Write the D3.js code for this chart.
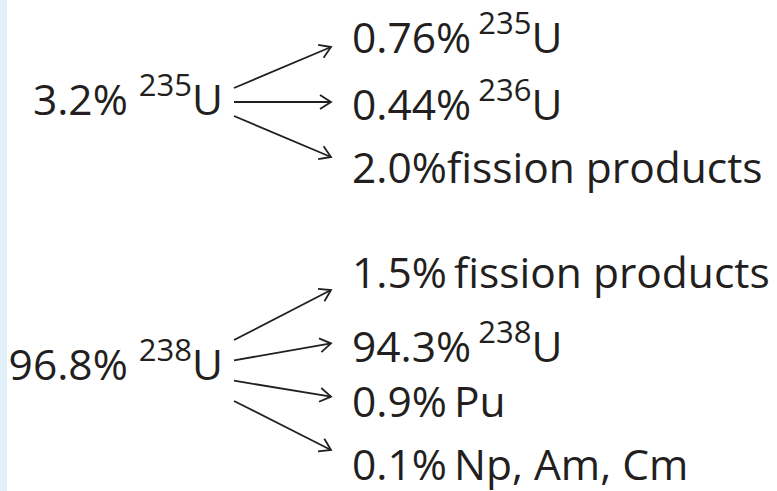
<!DOCTYPE html>
<html>
<head>
<meta charset="utf-8">
<script src="https://cdn.jsdelivr.net/npm/d3@7"></script>
<style>
  body { margin: 0; background: #fff; }
  svg { display: block; }
  text { font-family: "Open Sans", "Noto Sans", sans-serif; fill: #231f20; }
</style>
</head>
<body>
<div id="container"></div>
<script>
/* DATA */
const sourceShare = ["3.2%", "96.8%"];
const sourceMass = ["235", "238"];

const u235Share = ["0.76%", "0.44%", "2.0%"];
const u235Mass = ["235", "236", null];
const u235Name = ["U", "U", "fission products"];
const u235Gap = [" ", " ", ""];

const u238Share = ["1.5%", "94.3%", "0.9%", "0.1%"];
const u238Mass = [null, "238", null, null];
const u238Name = ["fission products", "U", "Pu", "Np, Am, Cm"];
const u238Gap = [" ", " ", " ", " "];

/* CONSTANTS AND GLOBALS */
const width = 777, height = 491;
const ink = "#231f20";
const mainSize = 42.5, supSize = 31, supRise = 19;

// layout for the two groups
const groups = [
  { src: 0, share: u235Share, mass: u235Mass, name: u235Name, gap: u235Gap,
    srcBase: 115, startY: [88, 116], endY: [47, 157], labelY: [53, 120, 183] },
  { src: 1, share: u238Share, mass: u238Mass, name: u238Name, gap: u238Gap,
    srcBase: 380, startY: [340, 401], endY: [290, 450], labelY: [288, 362, 417, 480] }
];
const srcRight = 223, arrowX0 = 234, arrowX1 = 331, labelX = 352;

const svg = d3.select("#container")
  .append("svg")
  .attr("width", width)
  .attr("height", height);

svg.append("rect")
  .attr("width", width).attr("height", height)
  .attr("fill", "#fff");
svg.append("rect")
  .attr("width", 7).attr("height", height)
  .attr("fill", "#e1eff9");

// open arrow head
svg.append("defs").append("marker")
  .attr("id", "head")
  .attr("markerUnits", "userSpaceOnUse")
  .attr("viewBox", "-14 -9 16 18")
  .attr("markerWidth", 16).attr("markerHeight", 18)
  .attr("refX", 0).attr("refY", 0)
  .attr("orient", "auto")
  .append("path")
  .attr("d", "M-11,-7L0,0L-11,7")
  .attr("fill", "none")
  .attr("stroke", ink)
  .attr("stroke-width", 1.8)
  .attr("stroke-linejoin", "miter");

// isotope label: share, superscript mass, name
function label(sel, share, mass, name, gap, tight) {
  sel.append("tspan")
    .attr("word-spacing", tight ? -4 : 0)
    .text(share + (mass ? " " : gap));
  if (mass) {
    sel.append("tspan").attr("font-size", supSize).attr("dy", -supRise).text(mass);
    sel.append("tspan").attr("dy", supRise).text(name);
  } else {
    sel.append("tspan").text(name);
  }
}

groups.forEach(g => {
  const idx = d3.range(g.share.length);
  const yStart = d3.scalePoint().domain(idx).range(g.startY);
  const yEnd = d3.scalePoint().domain(idx).range(g.endY);

  // source label
  svg.append("text")
    .attr("x", srcRight).attr("y", g.srcBase)
    .attr("text-anchor", "end")
    .attr("font-size", mainSize)
    .call(label, sourceShare[g.src], sourceMass[g.src], "U", " ", false);

  // arrows
  svg.selectAll(null)
    .data(idx)
    .join("line")
    .attr("x1", arrowX0).attr("y1", d => yStart(d))
    .attr("x2", arrowX1).attr("y2", d => yEnd(d))
    .attr("stroke", ink)
    .attr("stroke-width", 1.8)
    .attr("marker-end", "url(#head)");

  // product labels
  svg.selectAll(null)
    .data(idx)
    .join("text")
    .attr("x", labelX).attr("y", d => g.labelY[d])
    .attr("font-size", mainSize)
    .each(function(d) {
      d3.select(this).call(label, g.share[d], g.mass[d], g.name[d], g.gap[d], true);
    });
});
</script>
</body>
</html>
